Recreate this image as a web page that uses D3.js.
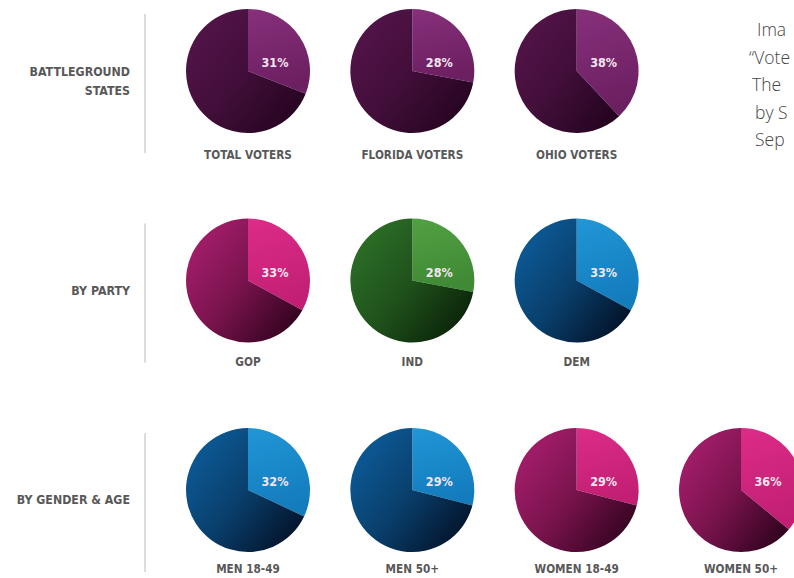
<!DOCTYPE html>
<html>
<head>
<meta charset="utf-8">
<script src="https://cdn.jsdelivr.net/npm/d3@7"></script>
<style>
    html, body { margin: 0; padding: 0; background: #fff; overflow: hidden; }
    svg { display: block; }
    .grp-label, .pie-label { font-family: "DejaVu Sans Condensed", "Liberation Sans Narrow", sans-serif; font-weight: bold; fill: #585858; }
    .pct { font-family: "DejaVu Sans Condensed", sans-serif; font-weight: bold; fill: #f4e6f0; }
    .note { font-family: "Open Sans", "Noto Sans", sans-serif; font-weight: 300; fill: #444; font-size: 17.5px; }
</style>
</head>
<body>
<div id="chart"></div>
<script>
    // Data
    var groups = [["BATTLEGROUND", "STATES"], ["BY PARTY"], ["BY GENDER & AGE"]];
    var pieNames = ["TOTAL VOTERS", "FLORIDA VOTERS", "OHIO VOTERS", "GOP", "IND", "DEM", "MEN 18-49", "MEN 50+", "WOMEN 18-49", "WOMEN 50+"];
    var pieValues = [31, 28, 38, 33, 28, 33, 32, 29, 29, 36];
    var pieRow = [0, 0, 0, 1, 1, 1, 2, 2, 2, 2];
    var pieCol = [0, 1, 2, 0, 1, 2, 0, 1, 2, 3];
    var pieTheme = ["purple", "purple", "purple", "magenta", "green", "blue", "blue", "blue", "magenta", "magenta"];
    var noteLines = ["Ima", "\u201cVote", "The", "by S", "Sep"];

    // palettes: highlight top, highlight bottom, body light, body dark
    var themes = {
        purple:  ["#87307b", "#6c1f61", "#501346", "#250420"],
        magenta: ["#dc2c88", "#c21f74", "#9e1c66", "#33031f"],
        green:   ["#52a043", "#3f8a34", "#2a6a25", "#0a2208"],
        blue:    ["#2196d6", "#137cbd", "#0c5690", "#03132a"]
    };

    var width = 794, height = 578, radius = 62;

    var svg = d3.select("#chart").append("svg")
        .attr("width", width)
        .attr("height", height);

    var xScale = d3.scaleLinear().domain([0, 3]).range([248, 741]);
    var yScale = d3.scaleLinear().domain([0, 2]).range([71, 490]);

    // Gradients
    var defs = svg.append("defs");
    Object.keys(themes).forEach(function(k) {
        var c = themes[k];
        var gHi = defs.append("linearGradient").attr("id", "hi-" + k)
            .attr("x1", 0).attr("y1", 0).attr("x2", 0.2).attr("y2", 1);
        gHi.append("stop").attr("offset", "0%").attr("stop-color", c[0]);
        gHi.append("stop").attr("offset", "100%").attr("stop-color", c[1]);
        var gBody = defs.append("linearGradient").attr("id", "body-" + k)
            .attr("x1", 0.15).attr("y1", 0.2).attr("x2", 0.95).attr("y2", 0.85);
        gBody.append("stop").attr("offset", "0%").attr("stop-color", c[2]);
        gBody.append("stop").attr("offset", "45%").attr("stop-color", d3.interpolateRgb(c[2], c[3])(0.35));
        gBody.append("stop").attr("offset", "100%").attr("stop-color", c[3]);
    });

    var pie = d3.pie().sort(null);
    var arc = d3.arc().innerRadius(0).outerRadius(radius);

    // Group labels and separators
    var rowLabel = svg.selectAll(".grp").data(groups).enter().append("g")
        .attr("class", "grp");
    rowLabel.append("line")
        .attr("x1", 145).attr("x2", 145)
        .attr("y1", function(d, i) { return yScale(i) - 57; })
        .attr("y2", function(d, i) { return yScale(i) + 82; })
        .attr("stroke", "#d0d0d0").attr("stroke-width", 1.5);
    rowLabel.append("text")
        .attr("class", "grp-label")
        .attr("text-anchor", "end")
        .attr("x", 130)
        .attr("font-size", 12.3)
        .selectAll("tspan").data(function(d, i) {
            return d.map(function(t, j) { return { t: t, i: i, j: j, n: d.length }; });
        })
        .enter().append("tspan")
        .attr("x", 130)
        .attr("y", function(d) { return yScale(d.i) + 14 + (d.j - (d.n - 1) / 2) * 19; })
        .text(function(d) { return d.t; });

    // Pies
    var pies = svg.selectAll(".pie").data(pieValues).enter().append("g")
        .attr("class", "pie")
        .attr("transform", function(d, i) { return "translate(" + xScale(pieCol[i]) + "," + yScale(pieRow[i]) + ")"; });

    pies.selectAll("path")
        .data(function(d, i) { return pie([d, 100 - d]).map(function(a) { a.theme = pieTheme[i]; return a; }); })
        .enter().append("path")
        .attr("d", arc)
        .attr("fill", function(d) { return "url(#" + (d.index === 0 ? "hi-" : "body-") + d.theme + ")"; });

    pies.append("text")
        .attr("class", "pct")
        .attr("x", 27).attr("y", -4)
        .attr("text-anchor", "middle")
        .attr("font-size", 12.5)
        .text(function(d) { return d + "%"; });

    pies.append("text")
        .attr("class", "pie-label")
        .attr("x", 0)
        .attr("y", function(d, i) { return radius + [26, 23, 21][pieRow[i]]; })
        .attr("text-anchor", "middle")
        .attr("font-size", 11.7)
        .text(function(d, i) { return pieNames[i]; });

    // Clipped side note
    svg.selectAll(".note").data(noteLines).enter().append("text")
        .attr("class", "note")
        .attr("x", function(d, i) { return [757, 749, 752, 755, 755][i]; })
        .attr("y", function(d, i) { return 36 + i * 27.5; })
        .text(function(d) { return d; });
</script>
</body>
</html>
